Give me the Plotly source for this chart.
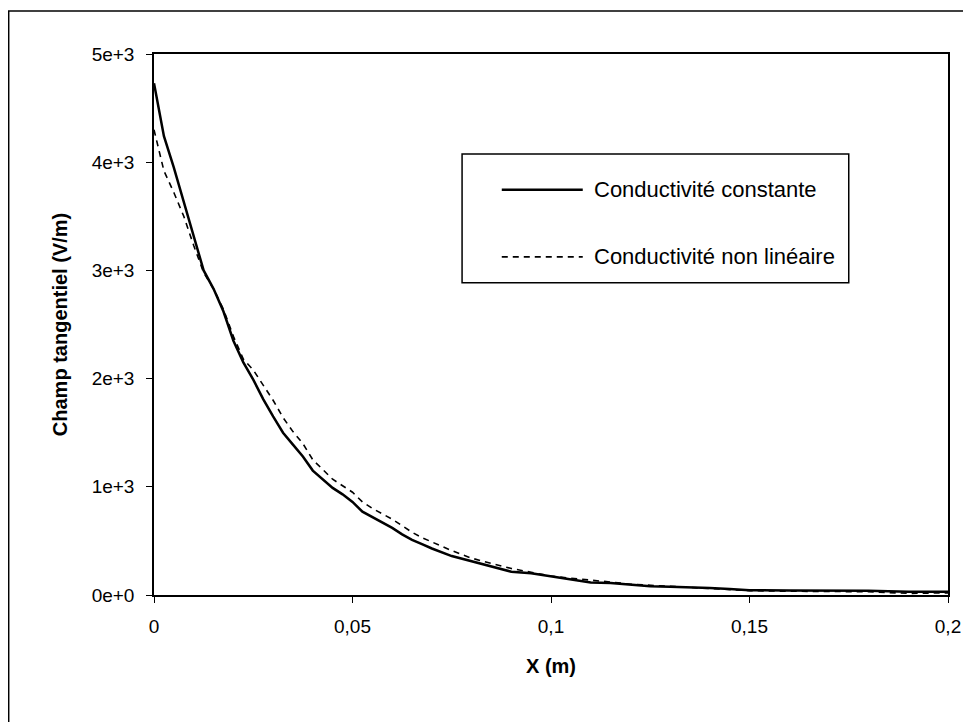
import plotly.graph_objects as go

# Data
x_const = [0, 0.0025, 0.005, 0.0075, 0.01, 0.0125, 0.015, 0.0175, 0.02, 0.0225, 0.025, 0.0275,
           0.03, 0.0325, 0.035, 0.0375, 0.04, 0.0425, 0.045, 0.0475, 0.05, 0.0525, 0.055, 0.0575,
           0.06, 0.0625, 0.065, 0.0675, 0.07, 0.075, 0.08, 0.085, 0.09, 0.095, 0.1, 0.105, 0.11,
           0.115, 0.12, 0.125, 0.13, 0.135, 0.14, 0.145, 0.15, 0.16, 0.17, 0.18, 0.19, 0.2]
y_const = [4730, 4240, 3950, 3640, 3330, 3000, 2830, 2620, 2350, 2150, 1990, 1810,
           1650, 1500, 1390, 1280, 1150, 1070, 990, 930, 860, 770, 720, 670,
           620, 560, 510, 470, 430, 360, 310, 260, 215, 200, 170, 140, 115,
           110, 95, 82, 76, 72, 65, 55, 45, 42, 42, 40, 30, 30]

x_nonlin = x_const
y_nonlin = [4300, 3920, 3720, 3500, 3230, 2980, 2830, 2640, 2390, 2180, 2080, 1940,
            1800, 1640, 1510, 1400, 1250, 1160, 1070, 1010, 950, 860, 800, 750,
            700, 640, 580, 530, 490, 410, 340, 290, 245, 210, 175, 155, 140,
            120, 100, 90, 80, 70, 60, 50, 40, 35, 35, 30, 15, 20]

x_tickvals = [0, 0.05, 0.1, 0.15, 0.2]
x_ticktext = ["0", "0,05", "0,1", "0,15", "0,2"]
y_tickvals = [0, 1000, 2000, 3000, 4000, 5000]
y_ticktext = ["0e+0", "1e+3", "2e+3", "3e+3", "4e+3", "5e+3"]

name_const = "Conductivité constante"
name_nonlin = "Conductivité non linéaire"

FONT = "Liberation Sans, Arial, sans-serif"

fig = go.Figure()
fig.add_trace(go.Scatter(x=x_const, y=y_const, mode="lines", name=name_const,
                         line=dict(color="black", width=2.5), showlegend=False))
fig.add_trace(go.Scatter(x=x_nonlin, y=y_nonlin, mode="lines", name=name_nonlin,
                         line=dict(color="black", width=1.6, dash="6px,5px"), showlegend=False))

axis_common = dict(showline=True, linecolor="black", linewidth=1.5, mirror=True,
                   ticks="outside", ticklen=6, tickcolor="black", tickwidth=1.2,
                   showgrid=False, zeroline=False,
                   tickfont=dict(family=FONT, size=19, color="black"))

fig.update_xaxes(range=[0, 0.2], tickvals=x_tickvals, ticktext=x_ticktext,
                 ticklabelstandoff=7,
                 title=dict(text="<b>X (m)</b>", font=dict(family=FONT, size=20, color="black"),
                            standoff=23),
                 **axis_common)
fig.update_yaxes(range=[0, 5000], tickvals=y_tickvals, ticktext=y_ticktext,
                 ticklabelstandoff=8,
                 title=dict(text="<b>Champ tangentiel (V/m)</b>", font=dict(family=FONT, size=20, color="black"),
                            standoff=19),
                 **axis_common)

# Legend box drawn manually
shapes = [
    dict(type="rect", xref="paper", yref="paper", x0=0.388, x1=0.875, y0=0.577, y1=0.815,
         line=dict(color="black", width=1.5), fillcolor="white", layer="below"),
    dict(type="line", xref="paper", yref="paper", x0=0.438, x1=0.540, y0=0.749, y1=0.749,
         line=dict(color="black", width=2.5)),
    dict(type="line", xref="paper", yref="paper", x0=0.438, x1=0.540, y0=0.625, y1=0.625,
         line=dict(color="black", width=1.6, dash="6px,5px")),
    # outer frame (top and left edges)
    dict(type="line", xref="paper", yref="paper", x0=-0.184, x1=1.05, y0=1.0795, y1=1.0795,
         line=dict(color="black", width=1.5)),
    dict(type="line", xref="paper", yref="paper", x0=-0.183, x1=-0.183, y0=1.0795, y1=-0.26,
         line=dict(color="black", width=1.5)),
]
annotations = [
    dict(xref="paper", yref="paper", x=0.552, y=0.749, text=name_const, showarrow=False,
         xanchor="left", yanchor="middle", font=dict(family=FONT, size=22, color="black")),
    dict(xref="paper", yref="paper", x=0.552, y=0.625, text=name_nonlin, showarrow=False,
         xanchor="left", yanchor="middle", font=dict(family=FONT, size=22, color="black")),
]

fig.update_layout(width=971, height=722, paper_bgcolor="white", plot_bgcolor="white",
                  margin=dict(l=146, r=31, t=46, b=135),
                  shapes=shapes, annotations=annotations, showlegend=False)

fig.write_html("out.html")
